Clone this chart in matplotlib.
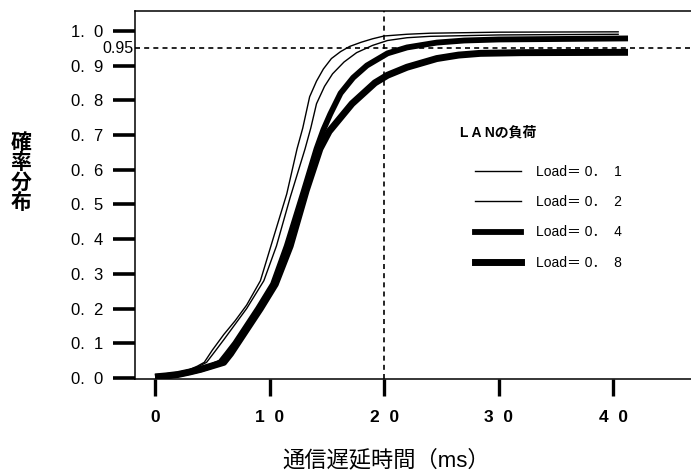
import matplotlib.pyplot as plt
from matplotlib.lines import Line2D

plt.rcParams['font.family'] = ['Liberation Sans', 'Noto Sans CJK JP', 'DejaVu Sans']

# Delay distribution data (x in ms, y = cumulative probability)
x_01 = [0, 1, 2, 3, 3.7, 4.3, 5, 6, 7, 8, 9.2, 10.3, 11.5, 12.4, 12.9, 13.5, 14.1, 14.7,
        15.4, 16.2, 17, 18, 19, 20, 22, 24, 30, 40.5]
y_01 = [0.005, 0.008, 0.014, 0.024, 0.034, 0.045, 0.08, 0.125, 0.165, 0.21, 0.28, 0.40,
        0.53, 0.66, 0.72, 0.81, 0.855, 0.89, 0.92, 0.94, 0.955, 0.967, 0.977, 0.985, 0.99,
        0.993, 0.996, 0.997]

x_02 = [0, 1, 2, 3, 3.8, 4.5, 5.2, 6, 7, 8, 9.5, 10.6, 11.8, 13.1, 13.6, 14.1, 14.8, 15.5,
        16.5, 17.6, 19, 20.3, 22, 24, 30, 40.5]
y_02 = [0.005, 0.008, 0.013, 0.022, 0.033, 0.045, 0.075, 0.11, 0.155, 0.20, 0.28, 0.38,
        0.52, 0.66, 0.72, 0.79, 0.84, 0.876, 0.91, 0.937, 0.958, 0.972, 0.98, 0.984,
        0.988, 0.99]

x_04 = [0, 1, 2, 3, 4, 5, 5.7, 6.3, 7, 8, 9, 10.3, 11.5, 13, 14.1, 14.7, 15.3, 16.2, 17.3,
        18.5, 20.3, 22, 24.6, 27, 30, 41.3]
y_04 = [0.003, 0.006, 0.01, 0.017, 0.025, 0.035, 0.045, 0.07, 0.10, 0.15, 0.20, 0.27, 0.38,
        0.54, 0.66, 0.715, 0.76, 0.82, 0.865, 0.9, 0.935, 0.952, 0.966, 0.972, 0.975, 0.978]

x_08 = [0, 1, 2, 3, 4, 5, 6, 6.6, 7.2, 8.2, 9.2, 10.5, 11.8, 13.2, 14.4, 15.2, 16.2, 17.2,
        18.2, 19.2, 20.3, 22, 24.6, 26.5, 28.4, 32, 41.3]
y_08 = [0.003, 0.006, 0.01, 0.017, 0.025, 0.035, 0.045, 0.07, 0.10, 0.15, 0.20, 0.27, 0.38,
        0.54, 0.66, 0.71, 0.75, 0.79, 0.82, 0.85, 0.872, 0.895, 0.92, 0.93, 0.935, 0.937,
        0.938]

labels = ['Load＝ 0．  1', 'Load＝ 0．  2', 'Load＝ 0．  4', 'Load＝ 0．  8']
widths = [1.0, 1.0, 4.2, 5.0]

x_ticks = [0, 10, 20, 30, 40]
x_ticklabels = ['0', '1  0', '2  0', '3  0', '4  0']
y_ticks = [0.0, 0.1, 0.2, 0.3, 0.4, 0.5, 0.6, 0.7, 0.8, 0.9, 1.0]
y_ticklabels = ['0.  0', '0.  1', '0.  2', '0.  3', '0.  4', '0.  5', '0.  6', '0.  7',
                '0.  8', '0.  9', '1.  0']

fig = plt.figure(figsize=(6.91, 4.76), dpi=100)
ax = fig.add_axes([135 / 691, 1 - 379 / 476, (691 - 135) / 691, (379 - 11) / 476])

series = [(x_01, y_01), (x_02, y_02), (x_04, y_04), (x_08, y_08)]
for (xs, ys), lw in zip(series, widths):
    ax.plot(xs, ys, color='black', lw=lw, solid_capstyle='butt', solid_joinstyle='round')

# reference lines
ax.axhline(0.95, color='black', lw=1.2, linestyle=(0, (3, 2.5)))
ax.axvline(20, color='black', lw=1.2, linestyle=(0, (3, 2.5)))
ax.text(-1.9, 0.95, '0.95', ha='right', va='center', fontsize=11.5)

ax.set_xlim(-1.75, 46.8)
ax.set_ylim(-0.003, 1.057)
ax.set_xticks(x_ticks)
ax.set_xticklabels(x_ticklabels, fontsize=12.5, fontweight='bold')
ax.set_yticks(y_ticks)
ax.set_yticklabels(y_ticklabels, fontsize=12)
ax.tick_params(axis='y', length=16, width=2.6, pad=7)
ax.tick_params(axis='x', length=12, width=2.4, pad=10)
ax.spines['right'].set_visible(False)
for s in ['left', 'top', 'bottom']:
    ax.spines[s].set_linewidth(1.1)

# legend
handles = [Line2D([], [], color='black', lw=lw) for lw in widths]
ax.legend(handles, labels, loc='upper left', bbox_to_anchor=(475 / 691, 1 - 165 / 476),
          bbox_transform=fig.transFigure, frameon=False, borderpad=0, borderaxespad=0,
          handlelength=3.3, handletextpad=1.1, labelspacing=1.17, prop={'size': 10})
fig.text(460 / 691, 1 - 132 / 476, 'L A Nの負荷', fontsize=10, fontweight='bold',
         ha='left', va='center')

# axis titles
fig.text(21 / 691, 1 - 173 / 476, '確\n率\n分\n布', fontsize=15, fontweight='bold',
         ha='center', va='center', linespacing=1.0)
fig.text(386 / 691, 1 - 460 / 476, '通信遅延時間（ms）', fontsize=16,
         ha='center', va='center')

fig.savefig('out.png', dpi=100)
